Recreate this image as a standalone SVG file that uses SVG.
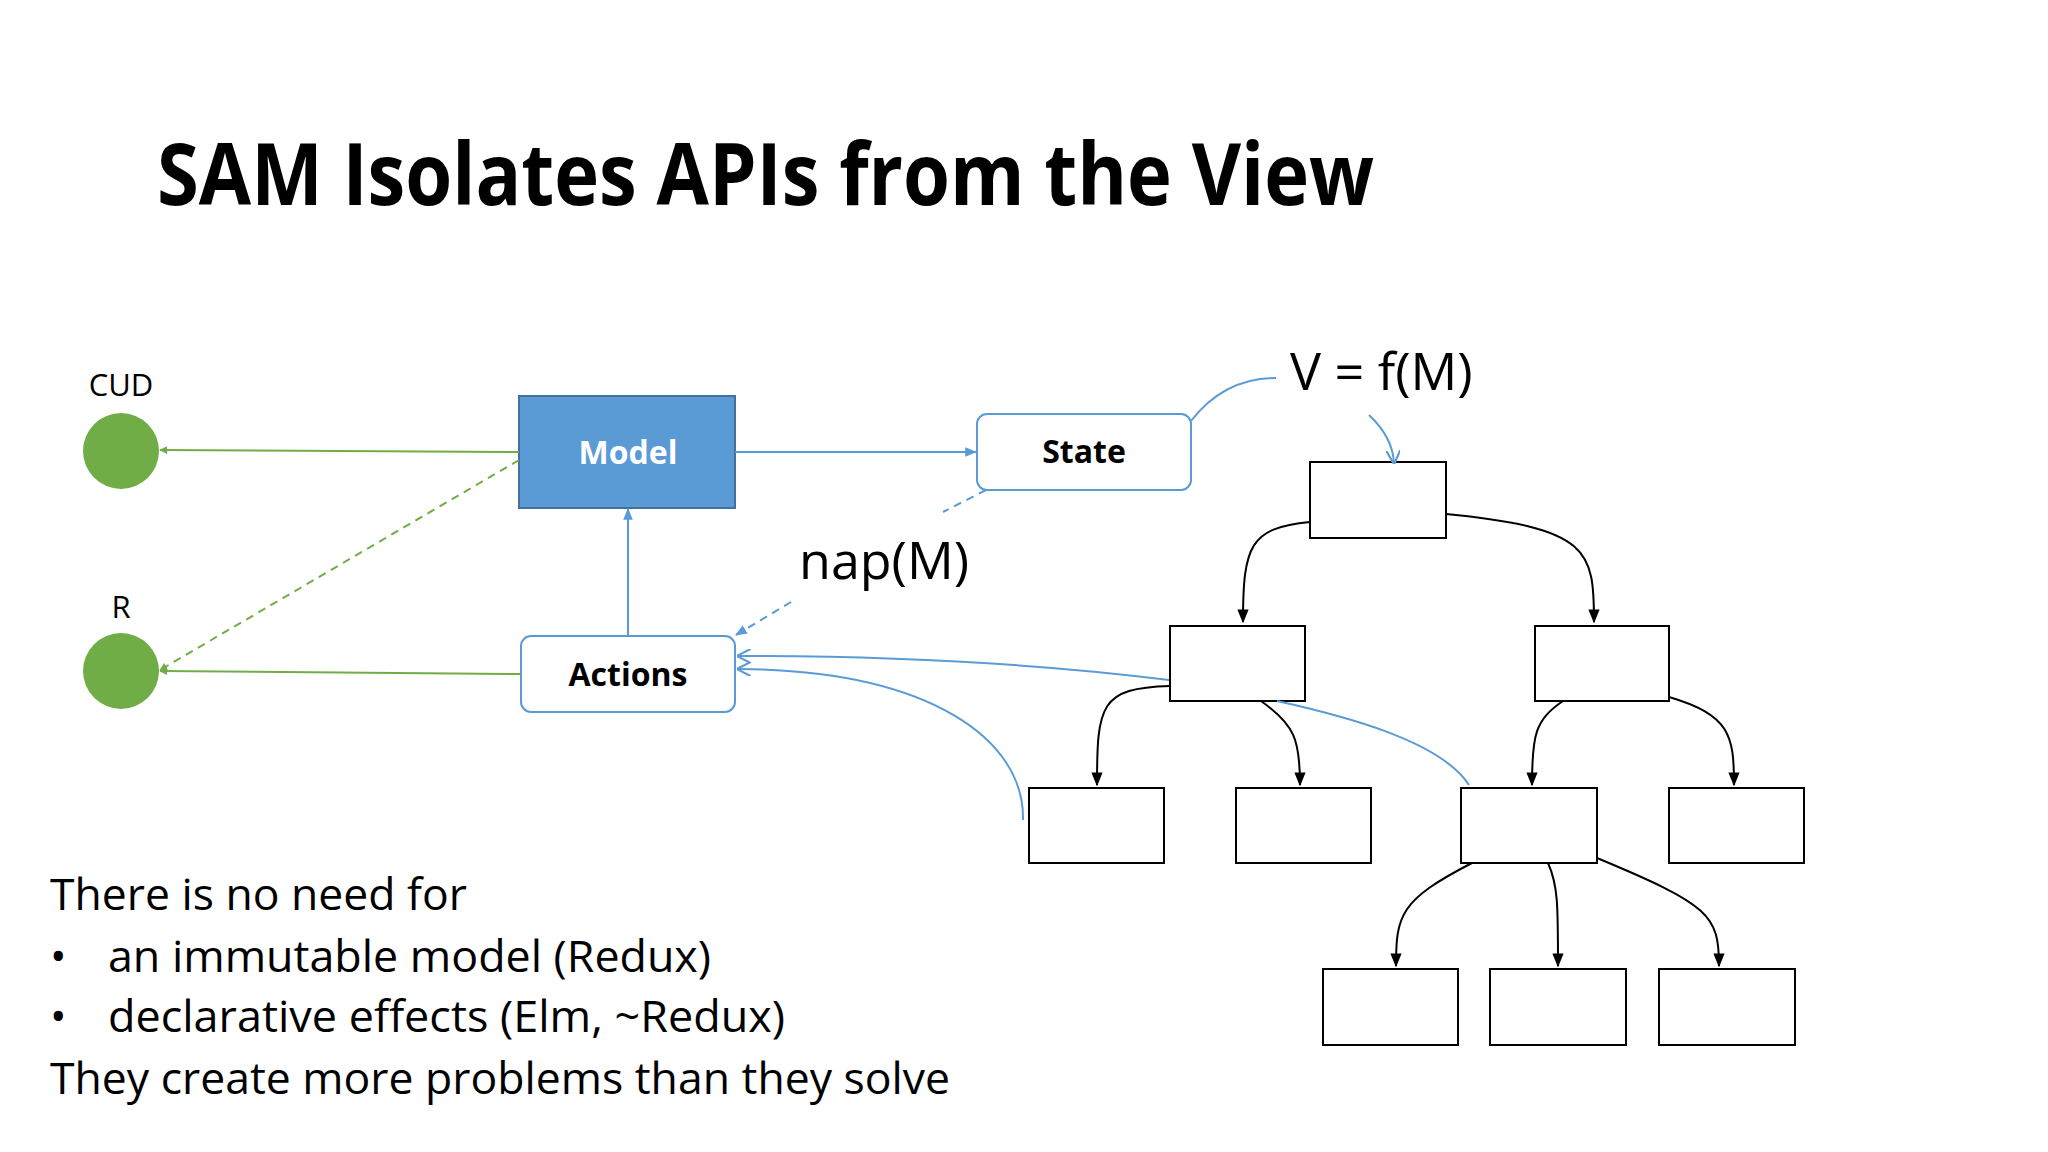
<svg xmlns="http://www.w3.org/2000/svg" width="2048" height="1152" viewBox="0 0 2048 1152">
<style>
text{font-family:"Open Sans","Liberation Sans",sans-serif;fill:#000}
.box{fill:#fff;stroke:#000;stroke-width:2}
.rb{fill:#fff;stroke:#5b9bd5;stroke-width:2}
.g{stroke:#70ad47;stroke-width:2;fill:none}
.b{stroke:#5b9bd5;stroke-width:2;fill:none}
.k{stroke:#000;stroke-width:2;fill:none}
.lbl{font-weight:bold;font-size:32px;text-anchor:middle}
</style>
<defs>
<marker id="ag" viewBox="0 0 10 10" refX="9" refY="5" markerWidth="8" markerHeight="8" orient="auto-start-reverse" markerUnits="userSpaceOnUse"><path d="M0,0L10,5L0,10z" fill="#70ad47"/></marker>
<marker id="ab" viewBox="0 0 10 10" refX="9" refY="5" markerWidth="12" markerHeight="12" orient="auto" markerUnits="userSpaceOnUse"><path d="M0,1L10,5L0,9z" fill="#5b9bd5"/></marker>
<marker id="ao" viewBox="0 0 10 10" refX="9" refY="5" markerWidth="14" markerHeight="14" orient="auto" markerUnits="userSpaceOnUse"><path d="M0,0L10,5L0,10" fill="none" stroke="#5b9bd5" stroke-width="1.5"/></marker>
<marker id="ak" viewBox="0 0 10 10" refX="9" refY="5" markerWidth="14" markerHeight="14" orient="auto" markerUnits="userSpaceOnUse"><path d="M0,1L10,5L0,9z" fill="#000"/></marker>
</defs>
<rect width="2048" height="1152" fill="#fff"/>
<text x="157" y="205" font-family="Impact,'Liberation Sans',sans-serif" font-weight="bold" font-size="86" textLength="1217" lengthAdjust="spacingAndGlyphs">SAM Isolates APIs from the View</text>

<g id="cud"><text x="121" y="396" font-size="31" text-anchor="middle">CUD</text><circle cx="121" cy="451" r="38" fill="#70ad47"/></g>
<g id="r"><text x="121" y="618" font-size="31" text-anchor="middle">R</text><circle cx="121" cy="671" r="38" fill="#70ad47"/></g>
<g id="model"><rect x="519" y="396" width="216" height="112" fill="#5b9bd5" stroke="#41719c" stroke-width="2"/><text class="lbl" x="628" y="464" style="fill:#fff">Model</text></g>
<g id="state"><rect class="rb" x="977" y="414" width="214" height="76" rx="10"/><text class="lbl" x="1084" y="463">State</text></g>
<g id="actions"><rect class="rb" x="521" y="636" width="214" height="76" rx="10"/><text class="lbl" x="628" y="686">Actions</text></g>
<text x="799" y="579" font-size="52">nap(M)</text>
<text x="1290" y="390" font-size="52">V = f(M)</text>

<g id="tree">
<rect class="box" x="1310" y="462" width="136" height="76"/>
<rect class="box" x="1170" y="626" width="135" height="75"/>
<rect class="box" x="1535" y="626" width="134" height="75"/>
<rect class="box" x="1029" y="788" width="135" height="75"/>
<rect class="box" x="1236" y="788" width="135" height="75"/>
<rect class="box" x="1461" y="788" width="136" height="75"/>
<rect class="box" x="1669" y="788" width="135" height="75"/>
<rect class="box" x="1323" y="969" width="135" height="76"/>
<rect class="box" x="1490" y="969" width="136" height="76"/>
<rect class="box" x="1659" y="969" width="136" height="76"/>
</g>

<g id="connectors">
<line class="g" x1="519" y1="452" x2="160" y2="450" marker-end="url(#ag)"/>
<line class="g" x1="519" y1="460" x2="160" y2="670" stroke-dasharray="8,6" marker-end="url(#ag)"/>
<line class="g" x1="521" y1="674" x2="160" y2="671" marker-end="url(#ag)"/>
<line class="b" x1="735" y1="452" x2="976" y2="452" marker-end="url(#ab)"/>
<line class="b" x1="628" y1="636" x2="628" y2="509" marker-end="url(#ab)"/>
<line class="b" x1="986" y1="490" x2="943" y2="512" stroke-dasharray="8,6"/>
<line class="b" x1="791" y1="602" x2="736" y2="635" stroke-dasharray="8,6" marker-end="url(#ab)"/>
<path class="b" d="M1191,421 C1215,390 1245,378 1276,378"/>
<path class="b" d="M1369,415 C1385,430 1393,445 1394,463" marker-end="url(#ao)"/>
<path class="b" d="M1169,680 C1050,665 900,656 738,656" marker-end="url(#ao)"/>
<path class="b" d="M1023,820 C1025,740 930,670 738,669" marker-end="url(#ao)"/>
<path class="b" d="M1469,785 C1440,740 1340,715 1277,701"/>
<path class="k" d="M1310,522 C1250,528 1243,545 1243,622" marker-end="url(#ak)"/>
<path class="k" d="M1446,514 C1590,528 1594,550 1594,622" marker-end="url(#ak)"/>
<path class="k" d="M1170,686 C1100,688 1097,705 1097,785" marker-end="url(#ak)"/>
<path class="k" d="M1261,701 C1295,725 1300,740 1300,785" marker-end="url(#ak)"/>
<path class="k" d="M1563,701 C1535,720 1532,735 1532,785" marker-end="url(#ak)"/>
<path class="k" d="M1669,697 C1730,715 1734,735 1734,785" marker-end="url(#ak)"/>
<path class="k" d="M1472,863 C1400,900 1396,915 1396,966" marker-end="url(#ak)"/>
<path class="k" d="M1548,863 C1558,885 1558,905 1558,966" marker-end="url(#ak)"/>
<path class="k" d="M1597,858 C1710,905 1719,915 1719,966" marker-end="url(#ak)"/>
</g>

<g id="notes" font-size="44">
<text x="50" y="910" textLength="417" lengthAdjust="spacingAndGlyphs">There is no need for</text>
<text x="50" y="972">•</text><text x="108" y="972" textLength="603" lengthAdjust="spacingAndGlyphs">an immutable model (Redux)</text>
<text x="50" y="1032">•</text><text x="108" y="1032" textLength="677" lengthAdjust="spacingAndGlyphs">declarative effects (Elm, ~Redux)</text>
<text x="50" y="1094" textLength="900" lengthAdjust="spacingAndGlyphs">They create more problems than they solve</text>
</g>
</svg>
